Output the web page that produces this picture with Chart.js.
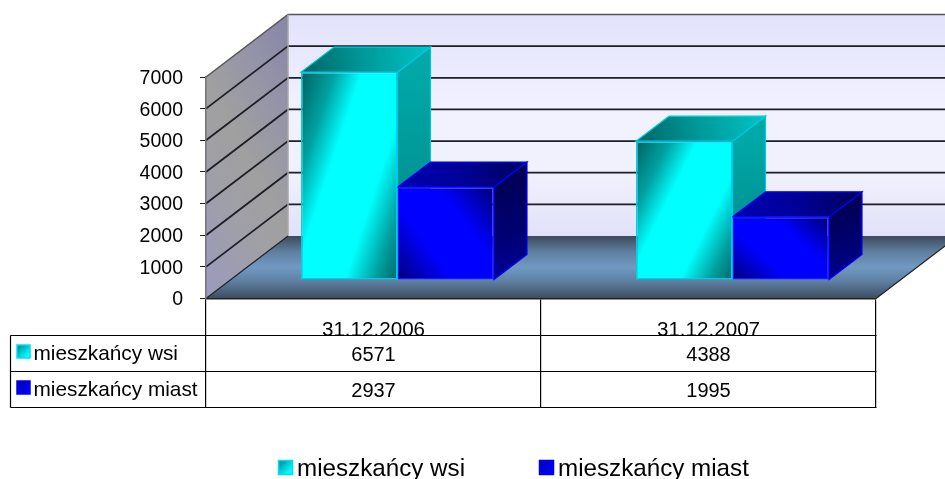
<!DOCTYPE html>
<html>
<head>
<meta charset="utf-8">
<title>mieszkańcy</title>
<script src="https://cdn.jsdelivr.net/npm/chart.js@4"></script>
<style>
    html, body { margin: 0; padding: 0; background: #fff; overflow: hidden; }
    canvas { display: block; }
</style>
</head>
<body>
<canvas id="chart" width="945" height="479"></canvas>
<script>
// Chart data
const categories = ['31.12.2006', '31.12.2007'];
const seriesNames = ['mieszkańcy wsi', 'mieszkańcy miast'];
const villageValues = [6571, 4388];
const cityValues = [2937, 1995];

const FONT = '"Liberation Sans", Arial, sans-serif';
const GROUP_SHARE = 0.576;

// 3D look: wall depth, and where the bars stand on the floor
const WALL_DX = 82, WALL_DY = -62.5;
const BAR_DX = 24, BAR_DY = -18.5;
const DEPTH_DX = 33, DEPTH_DY = -25;

function poly(ctx, pts, fill, stroke, lw) {
    ctx.beginPath();
    pts.forEach((p, i) => i ? ctx.lineTo(p[0], p[1]) : ctx.moveTo(p[0], p[1]));
    ctx.closePath();
    ctx.fillStyle = fill;
    ctx.fill();
    if (stroke) {
        ctx.strokeStyle = stroke;
        ctx.lineWidth = lw || 1;
        ctx.stroke();
    }
}

function linear(ctx, x0, y0, x1, y1, stops) {
    const g = ctx.createLinearGradient(x0, y0, x1, y1);
    stops.forEach(s => g.addColorStop(s[0], s[1]));
    return g;
}

// Front face gradient, bands run along one diagonal of the bar
function frontGradient(context) {
    const chart = context.chart;
    if (context.type !== 'data' || !chart.chartArea) return '#888';
    const xs = chart.scales.x, ys = chart.scales.y;
    const value = chart.data.datasets[context.datasetIndex].data[context.dataIndex];
    const w = xs.width / categories.length * GROUP_SHARE / 2;
    const cx = xs.getPixelForValue(context.dataIndex) + (context.datasetIndex === 0 ? -w / 2 : w / 2);
    const top = ys.getPixelForValue(value), bottom = ys.getPixelForValue(0);
    const h = bottom - top, left = cx - w / 2;
    const len = Math.hypot(w * 0.72, h), nx = h / len, ny = w * 0.72 / len;
    const d = w * nx + h * ny;
    if (context.datasetIndex === 0) {
        return linear(chart.ctx, left, top, left + nx * d, top + ny * d, [
            [0, '#006060'], [0.2, '#00a0a0'], [0.37, '#00ffff'], [0.68, '#00ffff'], [0.86, '#00a0a0'], [1, '#006868']
        ]);
    }
    return linear(chart.ctx, left, bottom, left + nx * d, bottom - ny * d, [
        [0, '#00007a'], [0.34, '#0000ff'], [0.66, '#0000ff'], [1, '#000078']
    ]);
}

const wallsAndBars = {
    id: 'wallsAndBars',
    beforeDraw(chart) {
        const ctx = chart.ctx, a = chart.chartArea, ys = chart.scales.y;
        const l = a.left, r = a.right, t = a.top, b = a.bottom;
        ctx.save();

        // back wall
        poly(ctx, [[l + WALL_DX, t + WALL_DY], [r + WALL_DX, t + WALL_DY], [r + WALL_DX, b + WALL_DY], [l + WALL_DX, b + WALL_DY]],
            linear(ctx, 0, t + WALL_DY, 0, b + WALL_DY, [[0, '#e2e2fb'], [0.45, '#f2f2ff'], [0.72, '#f1f1fe'], [1, '#e1e1f9']]));

        // side wall
        poly(ctx, [[l, t], [l + WALL_DX, t + WALL_DY], [l + WALL_DX, b + WALL_DY], [l, b]],
            linear(ctx, l, b, l + 180, b - 93, [[0, '#9a9ac0'], [0.3, '#9f9fa8'], [0.5, '#a0a0a0'], [0.75, '#9494a8'], [1, '#8686a8']]));

        // gridlines on both walls
        ys.ticks.forEach(tick => {
            const y = ys.getPixelForValue(tick.value);
            if (tick.value === 0) return;
            const top = tick.value === ys.max;
            ctx.strokeStyle = top ? '#555' : '#1e1e26';
            ctx.lineWidth = top ? 1.5 : 1.8;
            ctx.beginPath();
            ctx.moveTo(l, y);
            ctx.lineTo(l + WALL_DX, y + WALL_DY);
            ctx.lineTo(r + WALL_DX, y + WALL_DY);
            ctx.stroke();
        });
        ctx.strokeStyle = '#a8a8a8';
        ctx.lineWidth = 1.5;
        ctx.beginPath();
        ctx.moveTo(l + WALL_DX, t + WALL_DY);
        ctx.lineTo(l + WALL_DX, b + WALL_DY);
        ctx.stroke();

        // floor
        poly(ctx, [[l, b], [r, b], [r + WALL_DX, b + WALL_DY], [l + WALL_DX, b + WALL_DY]],
            linear(ctx, 0, b + WALL_DY, 0, b, [[0, '#3c4a5c'], [0.25, '#5f7f9f'], [0.5, '#7199c2'], [0.72, '#5f80a2'], [1, '#3d4c60']]));
        ctx.strokeStyle = '#222';
        ctx.lineWidth = 1.2;
        ctx.beginPath();
        ctx.moveTo(r, b);
        ctx.lineTo(r + WALL_DX, b + WALL_DY);
        ctx.moveTo(l, b);
        ctx.lineTo(l + WALL_DX, b + WALL_DY);
        ctx.stroke();
        ctx.restore();
    },
    beforeDatasetsDraw(chart) {
        const ctx = chart.ctx;
        ctx.save();
        ctx.translate(BAR_DX, BAR_DY);

        // top and right faces, cyan first so the blue ones sit over it
        chart.data.datasets.forEach((ds, di) => {
            chart.getDatasetMeta(di).data.forEach(bar => {
                const p = bar.getProps(['x', 'y', 'base', 'width']);
                const x0 = p.x - p.width / 2, x1 = p.x + p.width / 2, y0 = p.y, y1 = p.base;
                const cyan = di === 0;
                poly(ctx, [[x1, y0], [x1 + DEPTH_DX, y0 + DEPTH_DY], [x1 + DEPTH_DX, y1 + DEPTH_DY], [x1, y1]],
                    linear(ctx, x1, y0, x1 + DEPTH_DX * 0.6, y1, cyan
                        ? [[0, '#00a8a8'], [0.5, '#009696'], [1, '#006f6f']]
                        : [[0, '#000058'], [0.6, '#000078'], [1, '#00009c']]),
                    cyan ? '#00c8e6' : '#0000ff', 1.2);
                poly(ctx, [[x0, y0], [x1, y0], [x1 + DEPTH_DX, y0 + DEPTH_DY], [x0 + DEPTH_DX, y0 + DEPTH_DY]],
                    linear(ctx, x0, y0, x1 + DEPTH_DX, y0 + DEPTH_DY, cyan
                        ? [[0, '#006464'], [0.5, '#009a9a'], [1, '#00c4c4']]
                        : [[0, '#0000b4'], [0.5, '#000098'], [1, '#00005a']]),
                    cyan ? '#00c8e6' : '#0000ff', 1.2);
            });
        });
    },
    afterDatasetsDraw(chart) {
        chart.ctx.restore();
    },
    afterDraw(chart) {
        const ctx = chart.ctx, xs = chart.scales.x;
        ctx.save();

        // data table under the chart
        const rowLines = [335.5, 371.5, 407.5];
        const left = 10.5, right = xs.right + 0.5;
        ctx.strokeStyle = '#000';
        ctx.lineWidth = 1.2;
        ctx.beginPath();
        rowLines.forEach(y => { ctx.moveTo(left, y); ctx.lineTo(right, y); });
        ctx.moveTo(left, rowLines[0]);
        ctx.lineTo(left, rowLines[2]);
        ctx.stroke();

        const rows = [villageValues, cityValues];
        const swatchFill = [['#008c96', '#00ffff'], ['#0000b8', '#0000f4']];
        const swatchEdge = ['#00dcff', '#0000f0'];
        ctx.textBaseline = 'alphabetic';
        rows.forEach((vals, ri) => {
            const base = rowLines[ri] + 24.5;
            const sw = rowLines[ri] + 9.5;
            poly(ctx, [[17, sw], [30, sw], [30, sw + 13], [17, sw + 13]],
                linear(ctx, 17, sw, 30, sw + 13, [[0.1, swatchFill[ri][0]], [0.8, swatchFill[ri][1]]]), swatchEdge[ri], 1.5);
            ctx.fillStyle = '#000';
            ctx.textAlign = 'left';
            ctx.font = '20.8px ' + FONT;
            ctx.fillText(seriesNames[ri], 33.5, base);
            ctx.textAlign = 'center';
            ctx.font = '20px ' + FONT;
            vals.forEach((v, i) => ctx.fillText(String(v), xs.getPixelForValue(i), base + 0.5));
        });

        // legend
        const legendX = [[278.5, 297], [539.5, 558]];
        ctx.font = '24.2px ' + FONT;
        ctx.textAlign = 'left';
        seriesNames.forEach((name, i) => {
            const sx = legendX[i][0];
            poly(ctx, [[sx, 460.5], [sx + 14, 460.5], [sx + 14, 474.5], [sx, 474.5]],
                linear(ctx, sx, 460, sx + 14, 474, [[0.1, swatchFill[i][0]], [0.8, swatchFill[i][1]]]), swatchEdge[i], 1.5);
            ctx.fillStyle = '#000';
            ctx.fillText(name, legendX[i][1], 475.5);
        });
        ctx.restore();
    }
};

new Chart(document.getElementById('chart'), {
    type: 'bar',
    data: {
        labels: categories,
        datasets: [
            { label: seriesNames[0], data: villageValues, backgroundColor: frontGradient, borderColor: '#00ccf0', borderWidth: 1.5, borderSkipped: false, clip: false },
            { label: seriesNames[1], data: cityValues, backgroundColor: frontGradient, borderColor: '#1818ff', borderWidth: 1.5, borderSkipped: false, clip: false }
        ]
    },
    options: {
        responsive: false,
        animation: false,
        events: [],
        categoryPercentage: GROUP_SHARE,
        barPercentage: 1,
        layout: { padding: { left: 0, right: 69, top: 77, bottom: 0 } },
        plugins: { legend: { display: false }, tooltip: { enabled: false }, title: { display: false } },
        scales: {
            x: {
                afterFit(scale) { scale.height = 180.5; },
                grid: { drawOnChartArea: false, drawTicks: true, tickLength: 109, color: '#000', lineWidth: 1.2 },
                border: { display: true, color: '#222', width: 1.5 },
                ticks: { padding: -90, maxRotation: 0, color: '#000', font: { family: FONT, size: 20.6 } }
            },
            y: {
                min: 0,
                max: 7000,
                afterFit(scale) { scale.width = 206; },
                grid: { drawOnChartArea: false, drawTicks: true, tickLength: 6, color: '#222' },
                border: { display: true, color: '#777', width: 1.5 },
                ticks: { stepSize: 1000, padding: 17, labelOffset: 1.5, color: '#000', font: { family: FONT, size: 19.5 }, callback: v => String(v) }
            }
        }
    },
    plugins: [wallsAndBars]
});
</script>
</body>
</html>
